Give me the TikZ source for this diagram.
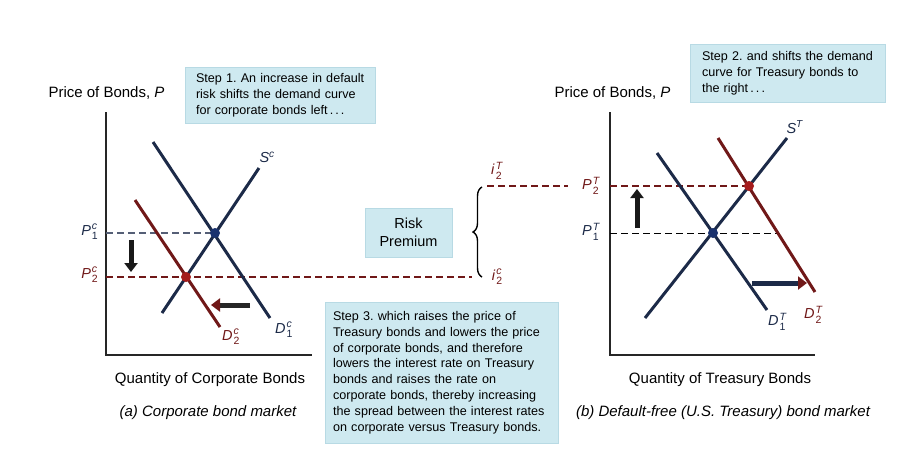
\documentclass[tikz,border=0pt]{standalone}
\usepackage{fontspec}
\setmainfont{Liberation Sans}
\usetikzlibrary{arrows.meta,decorations.pathreplacing}
\definecolor{navy}{RGB}{28,42,72}
\definecolor{dred}{RGB}{112,24,24}
\definecolor{boxfill}{RGB}{206,233,240}
\definecolor{boxedge}{RGB}{184,218,228}
\definecolor{dotblue}{RGB}{26,50,110}
\definecolor{dotred}{RGB}{165,28,28}
\newcommand\stk[3]{\textit{#1}\kern1pt\raisebox{-0.5pt}{\fontsize{10.5}{9}\selectfont\begin{tabular}[c]{@{}l@{}}\textit{#2}\\#3\end{tabular}}}
\newcommand\tline[1]{\mbox{#1}}
\frenchspacing
\begin{document}
\begin{tikzpicture}[x=1pt,y=-1pt,
  curve/.style={line width=3pt},
  axis/.style={line width=1.4pt,black!85},
  guide/.style={dash pattern=on 7pt off 4pt,line width=1.1pt},
  stepbox/.style={fill=boxfill,draw=boxedge,line width=0.6pt,align=left,font=\fontsize{12.6}{15.8}\selectfont,inner sep=0pt},
  bigarrow/.style={line width=5pt,-{Triangle[width=13pt,length=9pt]}},
  dot/.style={circle,inner sep=0pt,minimum size=10pt},
  axlab/.style={font=\fontsize{15}{17}\selectfont},
  lab/.style={font=\fontsize{14.5}{16}\selectfont}]
\useasboundingbox (0,0) rectangle (912,467);
% ---------- panel (a)
\coordinate (oa) at (106,355);
\coordinate (ya) at (106,112);
\coordinate (xa) at (312,355);
\draw[axis] (ya) -- (oa) -- (xa);
\node[axlab,anchor=west] (pa) at (45,93) {Price of Bonds, \textit{P}};
\node[stepbox,minimum width=190pt,minimum height=56pt,text width=168pt] (s1) at (280,95)
  {\tline{Step 1. An increase in default}\\\tline{risk shifts the demand curve}\\\tline{for corporate bonds left\,.\,.\,.}};
\coordinate (d1a) at (153,142); \coordinate (d1b) at (270,318);
\coordinate (sca) at (162,313); \coordinate (scb) at (259,168);
\coordinate (d2a) at (135,200); \coordinate (d2b) at (220,327);
\coordinate (ea) at (215,233);
\coordinate (eb) at (186,277);
\coordinate (p1l) at (106,233);
\coordinate (p2l) at (106,277);
\coordinate (ic) at (472,277);
\draw[guide,navy!75] (p1l) -- (ea);
\draw[guide,dred] (p2l) -- (ic);
\draw[curve,navy] (d1a) -- (d1b);
\draw[curve,navy] (sca) -- (scb);
\draw[curve,dred] (d2a) -- (d2b);
\node[dot,fill=dotblue] (nea) at (ea) {};
\node[dot,fill=dotred] (neb) at (eb) {};
\node[lab,anchor=east,text=navy,inner sep=0pt] (lp1c) at (98,233) {\stk{P}{c}{1}};
\node[lab,anchor=east,text=dred,inner sep=0pt] (lp2c) at (98,276) {\stk{P}{c}{2}};
\node[lab,anchor=west,text=navy] (lsc) at (256,157) {\textit{S}\textsuperscript{\textit{c}}};
\node[lab,anchor=west,text=navy,inner sep=0pt] (ld1c) at (275,331) {\stk{D}{c}{1}};
\node[lab,anchor=west,text=dred,inner sep=0pt] (ld2c) at (222,338) {\stk{D}{c}{2}};
\coordinate (da1) at (131,240); \coordinate (da2) at (131,272);
\draw[bigarrow,black!90] (da1) -- (da2);
\coordinate (la1) at (250,305); \coordinate (la2) at (211,305);
\draw[line width=5pt,-{Triangle[width=13pt,length=9pt,color=dred]},black!85] (la1) -- (la2);
\node[axlab] (qa) at (210,380) {Quantity of Corporate Bonds};
\node[axlab,font=\fontsize{15}{17}\selectfont\itshape] (ta) at (208,413) {(a) Corporate bond market};
% ---------- middle
\node[stepbox,minimum width=87pt,minimum height=49pt,align=center,font=\fontsize{14.5}{18}\selectfont] (rp) at (408.5,232.5) {Risk\\Premium};
\coordinate (bt) at (482,187);
\coordinate (bb) at (482,277);
\draw[line width=1.4pt,decorate,decoration={brace,amplitude=9pt}] (bb) -- (bt);
\node[lab,text=dred,inner sep=0pt] (li2t) at (497,172) {\stk{i}{T}{2}};
\node[lab,text=dred,inner sep=0pt] (li2c) at (497,278) {\stk{i}{c}{2}};
\node[stepbox,minimum width=233pt,minimum height=141pt,text width=217pt] (s3) at (441.5,372.5)
  {\tline{Step 3. which raises the price of}\\\tline{Treasury bonds and lowers the price}\\\tline{of corporate bonds, and therefore}\\\tline{lowers the interest rate on Treasury}\\\tline{bonds and raises the rate on}\\\tline{corporate bonds, thereby increasing}\\\tline{the spread between the interest rates}\\\tline{on corporate versus Treasury bonds.}};
% ---------- panel (b)
\coordinate (ob) at (610,355);
\coordinate (yb) at (610,112);
\coordinate (xb) at (815,355);
\draw[axis] (yb) -- (ob) -- (xb);
\node[axlab,anchor=west] (pb) at (551,93) {Price of Bonds, \textit{P}};
\node[stepbox,minimum width=195pt,minimum height=58pt,text width=171pt] (s2) at (787.5,73)
  {\tline{Step 2. and shifts the demand}\\\tline{curve for Treasury bonds to}\\\tline{the right\,.\,.\,.}};
\coordinate (t1a) at (657,153); \coordinate (t1b) at (767,310);
\coordinate (sta) at (645,318); \coordinate (stb) at (787,138);
\coordinate (t2a) at (718,138); \coordinate (t2b) at (815,292);
\coordinate (eta) at (713,233);
\coordinate (etb) at (749,186);
\coordinate (it) at (487,186);
\coordinate (itr) at (568,186);
\coordinate (p2tl) at (610,186);
\coordinate (p1tl) at (610,233);
\coordinate (p1tr) at (777,233);
\draw[guide,dred] (it) -- (itr);
\draw[guide,dred] (p2tl) -- (etb);
\draw[guide,black,line width=0.8pt] (p1tl) -- (p1tr);
\draw[curve,navy] (t1a) -- (t1b);
\draw[curve,navy] (sta) -- (stb);
\draw[curve,dred] (t2a) -- (t2b);
\node[dot,fill=dotblue] (neta) at (eta) {};
\node[dot,fill=dotred] (netb) at (etb) {};
\node[lab,anchor=east,text=dred,inner sep=0pt] (lp2t) at (600,187) {\stk{P}{T}{2}};
\node[lab,anchor=east,text=navy,inner sep=0pt] (lp1t) at (600,233) {\stk{P}{T}{1}};
\node[lab,anchor=west,text=navy] (lst) at (783,127) {\textit{S}\textsuperscript{\textit{T}}};
\node[lab,anchor=west,text=navy,inner sep=0pt] (ld1t) at (768,323) {\stk{D}{T}{1}};
\node[lab,anchor=west,text=dred,inner sep=0pt] (ld2t) at (804,316) {\stk{D}{T}{2}};
\coordinate (ua1) at (637,228); \coordinate (ua2) at (637,189);
\draw[bigarrow,black!90] (ua1) -- (ua2);
\coordinate (ra1) at (752,283); \coordinate (ra2) at (807,283);
\draw[line width=5pt,-{Triangle[width=13pt,length=9pt,color=dred]},navy] (ra1) -- (ra2);
\node[axlab] (qb) at (720,380) {Quantity of Treasury Bonds};
\node[axlab,font=\fontsize{15}{17}\selectfont\itshape] (tb) at (723,413) {(b) Default-free (U.S. Treasury) bond market};
\end{tikzpicture}
\end{document}
